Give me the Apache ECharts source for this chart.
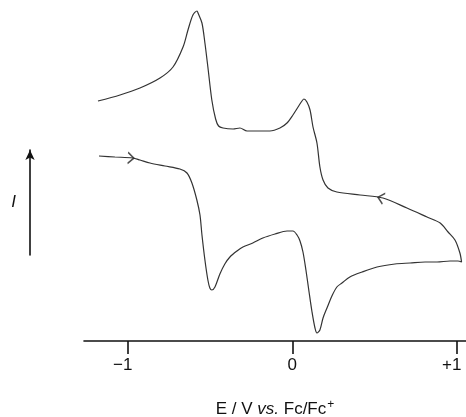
<!DOCTYPE html>
<html>
<head>
<meta charset="utf-8">
<script src="https://cdn.jsdelivr.net/npm/echarts@6/dist/echarts.min.js"></script>
<style>
  html, body { margin: 0; padding: 0; background: #fff; }
  #chart { width: 466px; height: 417px; }
</style>
</head>
<body>
<div id="chart"></div>
<script>
// potential (V vs Fc/Fc+) and current (arb. units)
const forwardE = [-1.175, -1.078, -0.969, -0.926, -0.865, -0.774, -0.683, -0.640, -0.610, -0.580,
  -0.561, -0.549, -0.531, -0.513, -0.501, -0.489, -0.470, -0.440, -0.410, -0.379,
  -0.336, -0.300, -0.240, -0.179, -0.105, -0.032, 0.004, 0.029, 0.047, 0.065,
  0.083, 0.102, 0.120, 0.138, 0.150, 0.168, 0.187, 0.211, 0.241, 0.271,
  0.302, 0.350, 0.424, 0.515, 0.624, 0.716, 0.807, 0.880, 0.959, 1.007, 1.029]
const forwardI = [185, 184, 183, 181, 178, 175, 172, 168, 158, 141,
  126, 106, 81, 61, 53, 51, 54, 67, 77, 84,
  90, 94, 98, 103, 107, 110, 110, 106, 100, 89,
  71, 49, 29, 13, 8, 11, 23, 33, 45, 54,
  58, 64, 69, 74, 77, 78, 79, 79, 80, 80, 79]
const reverseE = [1.019, 0.989, 0.947, 0.899, 0.819, 0.697, 0.551, 0.412, 0.271, 0.217,
  0.187, 0.168, 0.150, 0.126, 0.108, 0.089, 0.071, 0.059, 0.035, 0.004,
  -0.032, -0.075, -0.136, -0.196, -0.275, -0.318, -0.360, -0.421, -0.448, -0.466,
  -0.489, -0.513, -0.531, -0.549, -0.573, -0.579, -0.604, -0.634, -0.664, -0.725,
  -0.804, -0.926, -1.047, -1.181]
const reverseI = [88, 101, 109, 118, 124, 133, 143, 146, 149, 153,
  161, 174, 198, 214, 231, 239, 242, 240, 234, 226,
  218, 213, 210, 210, 210, 213, 212, 213, 215, 222,
  241, 274, 298, 318, 328, 330, 326, 311, 294, 274,
  263, 253, 246, 240]

// scan direction arrows
const arrowE = [-0.969, 0.551]
const arrowI = [183, 143]
const arrowRot = [-3, 165]

const tickValues = [-1, 0, 1]
const tickLabels = ['\u22121', '0', '+1']

const cycle = []
forwardE.forEach((e, i) => cycle.push([e, forwardI[i]]))
reverseE.forEach((e, i) => cycle.push([e, reverseI[i]]))

const arrows = arrowE.map((e, i) => ({
  value: [e, arrowI[i]],
  symbolRotate: arrowRot[i]
}))

const font = 'Liberation Sans, Arial, sans-serif'

const chart = echarts.init(document.getElementById('chart'))
chart.setOption({
  animation: false,
  backgroundColor: '#fff',
  grid: [
    { left: 84, right: 0, top: 0, bottom: 76, outerBoundsMode: 'none' },
    { left: 30, top: 150, width: 1, height: 105, outerBoundsMode: 'none' }
  ],
  xAxis: [{
    gridIndex: 0,
    type: 'value',
    min: -1.266,
    max: 1.056,
    splitLine: { show: false },
    axisLine: { lineStyle: { color: '#111', width: 1.6 } },
    axisTick: {
      customValues: tickValues,
      length: 13,
      lineStyle: { color: '#111', width: 1.6 }
    },
    axisLabel: {
      customValues: tickValues,
      margin: 16,
      fontFamily: font,
      fontSize: 17,
      color: '#111',
      formatter: (v) => {
        const i = tickValues.indexOf(Math.round(v))
        const t = tickLabels[i]
        return v === 0 ? t : '{s|' + t + '}'
      },
      rich: {
        s: { fontFamily: font, fontSize: 17, color: '#111', padding: [0, 10, 0, 0] }
      }
    },
    name: '{a|E / V }{i|vs.}{a| Fc/Fc}{sup|+}',
    nameLocation: 'middle',
    nameGap: 58,
    nameTextStyle: {
      rich: {
        a: { fontFamily: font, fontSize: 17, color: '#111' },
        i: { fontFamily: font, fontSize: 17, color: '#111', fontStyle: 'italic' },
        sup: { fontFamily: font, fontSize: 12, color: '#111', padding: [0, 0, 9, 1] }
      }
    }
  }, {
    gridIndex: 1,
    type: 'value',
    show: false
  }],
  yAxis: [{
    gridIndex: 0,
    type: 'value',
    min: 0,
    max: 341,
    show: false
  }, {
    gridIndex: 1,
    type: 'value',
    min: 0,
    max: 1,
    axisLine: {
      show: true,
      symbol: ['none', 'arrow'],
      symbolSize: [7, 10],
      lineStyle: { color: '#111', width: 1.6 }
    },
    axisTick: { show: false },
    axisLabel: { show: false },
    splitLine: { show: false },
    name: 'I',
    nameLocation: 'middle',
    nameRotate: 0,
    nameGap: 14,
    nameTextStyle: { fontFamily: font, fontSize: 17, fontStyle: 'italic', color: '#111' }
  }],
  series: [{
    type: 'line',
    xAxisIndex: 0,
    yAxisIndex: 0,
    data: cycle,
    smooth: 0.3,
    showSymbol: false,
    lineStyle: { color: '#333', width: 1.2 }
  }, {
    type: 'scatter',
    xAxisIndex: 0,
    yAxisIndex: 0,
    data: arrows,
    symbol: 'path://M0,0 L10,6 L0,12',
    symbolSize: [6, 11],
    symbolOffset: [-2, 0],
    itemStyle: { color: 'none', borderColor: '#222', borderWidth: 1.4 },
    z: 3
  }]
})
</script>
</body>
</html>
